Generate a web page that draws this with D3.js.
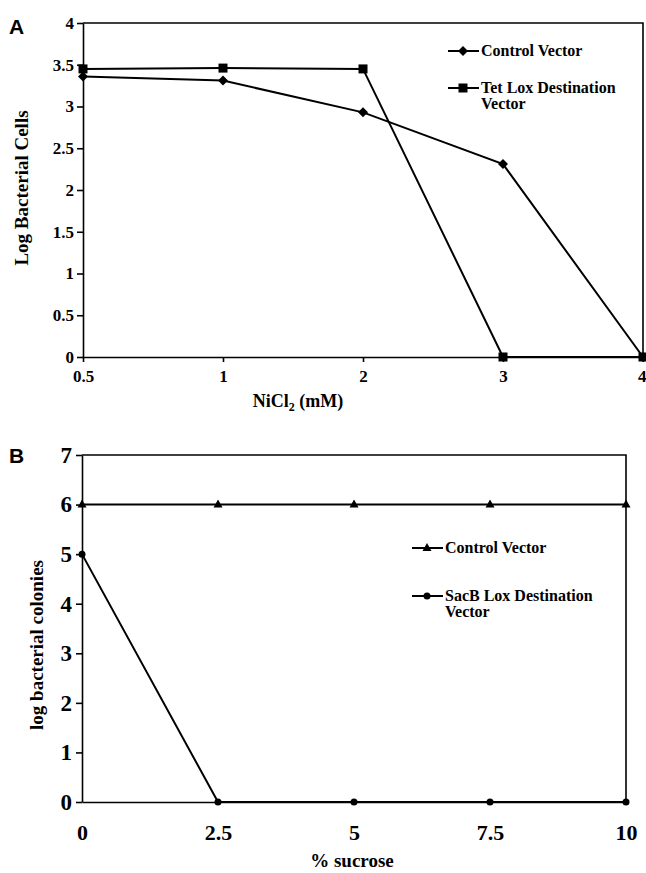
<!DOCTYPE html>
<html>
<head>
<meta charset="utf-8">
<script src="https://cdn.jsdelivr.net/npm/d3@7"></script>
<style>
  body { margin: 0; background: #fff; }
  svg { display: block; }
  .tick text { font-family: "Liberation Serif", "Times New Roman", serif; font-weight: bold; fill: #000; }
  .axis path, .axis line { stroke: #000; stroke-width: 1.6; }
</style>
</head>
<body>
<svg class="chart" width="646" height="873"></svg>
<script>
// panel A
var nicl = ["0.5", "1", "2", "3", "4"];
var controlA = [3.36, 3.31, 2.93, 2.31, 0];
var tetLox = [3.45, 3.46, 3.45, 0, 0];
var yTicksA = [0, 0.5, 1, 1.5, 2, 2.5, 3, 3.5, 4];

// panel B
var sucrose = [0, 2.5, 5, 7.5, 10];
var controlB = [6, 6, 6, 6, 6];
var sacbLox = [5, 0, 0, 0, 0];
var yTicksB = [0, 1, 2, 3, 4, 5, 6, 7];

var svg = d3.select(".chart");
var serif = '"Liberation Serif", "Times New Roman", serif';

function frame(x0, x1, y0, y1) {
    svg.append("path")
        .attr("d", "M" + x0 + "," + y1 + "H" + x1 + "V" + y0)
        .attr("fill", "none")
        .attr("stroke", "#000")
        .attr("stroke-width", 1.6);
}

function marker(g, shape, cx, cy) {
    if (shape == "diamond") {
        g.append("path").attr("d", "M" + cx + "," + (cy - 5) + "L" + (cx + 5) + "," + cy + "L" + cx + "," + (cy + 5) + "L" + (cx - 5) + "," + cy + "Z");
    } else if (shape == "square") {
        g.append("rect").attr("x", cx - 4.5).attr("y", cy - 4.5).attr("width", 9).attr("height", 9);
    } else if (shape == "triangle") {
        g.append("path").attr("d", "M" + cx + "," + (cy - 5) + "L" + (cx + 4.5) + "," + (cy + 3) + "L" + (cx - 4.5) + "," + (cy + 3) + "Z");
    } else {
        g.append("circle").attr("cx", cx).attr("cy", cy).attr("r", 3.5);
    }
}

function series(xs, ys, x, y, shape) {
    var pts = xs.map(function(d, i) { return [x(d), y(ys[i])]; });
    svg.append("path")
        .attr("d", d3.line()(pts))
        .attr("fill", "none")
        .attr("stroke", "#000")
        .attr("stroke-width", 2);
    var g = svg.append("g").attr("fill", "#000");
    pts.forEach(function(p) { marker(g, shape, p[0], p[1]); });
}

function legendRow(x, y, shape, lines, size) {
    svg.append("line")
        .attr("x1", x).attr("x2", x + 31)
        .attr("y1", y).attr("y2", y)
        .attr("stroke", "#000").attr("stroke-width", 2);
    var g = svg.append("g").attr("fill", "#000");
    marker(g, shape, x + 15, y);
    var t = svg.append("text")
        .attr("x", x + 33).attr("y", y + 5)
        .attr("font-family", serif).attr("font-weight", "bold")
        .attr("font-size", size);
    lines.forEach(function(l, i) {
        t.append("tspan").attr("x", x + 33).attr("dy", i == 0 ? 0 : size * 1.0).text(l);
    });
}

// ---------- A ----------
var xA = d3.scalePoint().domain(nicl).range([83, 643]);
var yA = d3.scaleLinear().domain([0, 4]).range([357, 23]);

frame(83, 643, 357, 23);

var axA = svg.append("g")
    .attr("class", "axis")
    .attr("transform", "translate(0,357)")
    .call(d3.axisBottom(xA).tickSize(5).tickSizeOuter(0).tickPadding(8));
axA.selectAll("text").attr("font-size", 17);
// last label sits at the page edge
axA.selectAll(".tick:last-of-type text").attr("text-anchor", "end").attr("x", 3);

svg.append("g")
    .attr("class", "axis")
    .attr("transform", "translate(83,0)")
    .call(d3.axisLeft(yA).tickValues(yTicksA).tickFormat(d3.format("")).tickSize(6).tickSizeOuter(0).tickPadding(3))
    .selectAll("text").attr("font-size", 17);

series(nicl, controlA, xA, yA, "diamond");
series(nicl, tetLox, xA, yA, "square");

legendRow(448, 51, "diamond", ["Control Vector"], 16);
legendRow(448, 88, "square", ["Tet Lox Destination", "Vector"], 16);

svg.append("text")
    .attr("x", 9).attr("y", 34)
    .attr("font-family", "Liberation Sans, Arial, sans-serif")
    .attr("font-weight", "bold").attr("font-size", 21)
    .text("A");

svg.append("text")
    .attr("transform", "translate(28,188) rotate(-90)")
    .attr("text-anchor", "middle")
    .attr("font-family", serif).attr("font-weight", "bold").attr("font-size", 19)
    .text("Log Bacterial Cells");

var tA = svg.append("text")
    .attr("x", 298).attr("y", 407)
    .attr("text-anchor", "middle")
    .attr("font-family", serif).attr("font-weight", "bold").attr("font-size", 18);
tA.append("tspan").text("NiCl");
tA.append("tspan").attr("font-size", 12).attr("dy", 4).text("2");
tA.append("tspan").attr("dy", -4).text(" (mM)");

// ---------- B ----------
var xB = d3.scaleLinear().domain([0, 10]).range([82, 626]);
var yB = d3.scaleLinear().domain([0, 7]).range([802, 455]);

frame(82, 626, 802, 455);

svg.append("g")
    .attr("class", "axis")
    .attr("transform", "translate(0,802)")
    .call(d3.axisBottom(xB).tickValues(sucrose).tickFormat(d3.format("")).tickSize(0).tickSizeOuter(0).tickPadding(22))
    .selectAll("text").attr("font-size", 22);

svg.append("g")
    .attr("class", "axis")
    .attr("transform", "translate(82,0)")
    .call(d3.axisLeft(yB).tickValues(yTicksB).tickFormat(d3.format("d")).tickSize(6).tickSizeOuter(0).tickPadding(4))
    .selectAll("text").attr("font-size", 23);

series(sucrose, controlB, xB, yB, "triangle");
series(sucrose, sacbLox, xB, yB, "circle");

legendRow(412, 548, "triangle", ["Control Vector"], 16);
legendRow(412, 596, "circle", ["SacB Lox Destination", "Vector"], 16);

svg.append("text")
    .attr("x", 9).attr("y", 463)
    .attr("font-family", "Liberation Sans, Arial, sans-serif")
    .attr("font-weight", "bold").attr("font-size", 21)
    .text("B");

svg.append("text")
    .attr("transform", "translate(43,645) rotate(-90)")
    .attr("text-anchor", "middle")
    .attr("font-family", serif).attr("font-weight", "bold").attr("font-size", 19)
    .text("log bacterial colonies");

svg.append("text")
    .attr("x", 352).attr("y", 867)
    .attr("text-anchor", "middle")
    .attr("font-family", serif).attr("font-weight", "bold").attr("font-size", 19)
    .text("% sucrose");
</script>
</body>
</html>
